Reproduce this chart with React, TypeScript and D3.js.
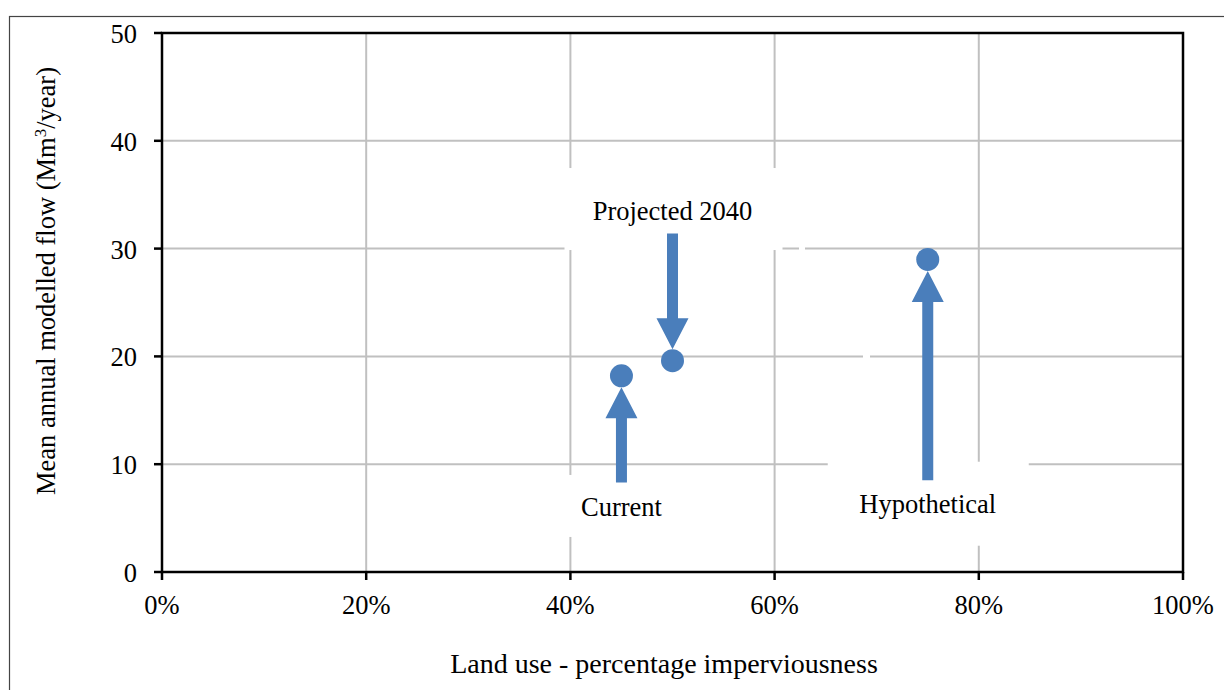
import React from "react";
import * as d3 from "d3";

const labels = ["Current", "Projected 2040", "Hypothetical"];
const imperviousness = [0.45, 0.5, 0.75];
const flow = [18.2, 19.6, 29.0];
const arrowTail = [8.3, 31.4, 8.5];
const labelBaseline = [5.2, 32.65, 5.5];
const xTicks = [0, 0.2, 0.4, 0.6, 0.8, 1.0];
const yTicks = [0, 10, 20, 30, 40, 50];
const xTitle = "Land use - percentage imperviousness";

const W = 1224;
const H = 690;
const M = { left: 162, right: 1183, top: 33, bottom: 572 };
const FONT = "'Liberation Serif', 'Times New Roman', serif";
const FS = 26.5;
const BLUE = "#4a7ebb";
const GRID = "#c0c0c0";
const R = 11.5;

// label box geometry (pixel offsets relative to label centre / baseline)
const boxes = [
  { dx0: -62, dx1: 68, dy0: -41, dy1: 21 },
  { dx0: -108, dx1: 110, dy0: -52, dy1: 30 },
  { dx0: -100, dx1: 101, dy0: -51, dy1: 33 },
];

export default function App() {
  const x = d3.scaleLinear().domain([0, 1]).range([M.left, M.right]);
  const y = d3.scaleLinear().domain([0, 50]).range([M.bottom, M.top]);
  const fmt = d3.format(".0%");

  const arrows = labels.map((_, i) => {
    const cx = x(imperviousness[i]);
    const py = y(flow[i]);
    const ty = y(arrowTail[i]);
    const up = ty > py;
    const tip = up ? py + R : py - R;
    const dir = up ? 1 : -1; // direction from tip to tail
    const headLen = 31;
    const headHalf = 16;
    const shaftHalf = 5.5;
    const base = tip + dir * headLen;
    const path = [
      [cx, tip],
      [cx + headHalf, base],
      [cx + shaftHalf, base],
      [cx + shaftHalf, ty],
      [cx - shaftHalf, ty],
      [cx - shaftHalf, base],
      [cx - headHalf, base],
    ];
    return d3.line()(path as [number, number][]) + "Z";
  });

  return (
    <svg
      width={W}
      height={H}
      style={{ position: "absolute", left: 0, top: 0, display: "block", background: "#fff" }}
      fontFamily={FONT}
    >
      <rect x={0} y={0} width={W} height={H} fill="#fff" />
      {/* outer frame */}
      <rect x={9.5} y={16.5} width={1400} height={1000} fill="none" stroke="#444" strokeWidth={1.2} />

      {/* grid */}
      {xTicks.slice(1, -1).map((t) => (
        <line key={"gx" + t} x1={x(t)} x2={x(t)} y1={M.top} y2={M.bottom} stroke={GRID} strokeWidth={2} />
      ))}
      {yTicks.slice(1, -1).map((t) => (
        <line key={"gy" + t} x1={M.left} x2={M.right} y1={y(t)} y2={y(t)} stroke={GRID} strokeWidth={2} />
      ))}

      {/* white label boxes */}
      {labels.map((l, i) => {
        const b = boxes[i];
        const cx = x(imperviousness[i]);
        const by = y(labelBaseline[i]);
        return (
          <rect key={"box" + i} x={cx + b.dx0} y={by + b.dy0} width={b.dx1 - b.dx0} height={b.dy1 - b.dy0} fill="#fff" />
        );
      })}
      <rect x={799} y={246} width={6} height={6} fill="#fff" />
      <rect x={863} y={353} width={7} height={6} fill="#fff" />

      {/* plot border / axes */}
      <rect x={M.left} y={M.top} width={M.right - M.left} height={M.bottom - M.top} fill="none" stroke="#000" strokeWidth={2.5} />
      {yTicks.map((t) => (
        <g key={"yt" + t}>
          <line x1={M.left - 8} x2={M.left} y1={y(t)} y2={y(t)} stroke="#000" strokeWidth={2.5} />
          <text x={137} y={y(t) + 10} textAnchor="end" fontSize={FS} fill="#000">
            {t}
          </text>
        </g>
      ))}
      {xTicks.map((t) => (
        <g key={"xt" + t}>
          <line x1={x(t)} x2={x(t)} y1={M.bottom} y2={M.bottom + 8} stroke="#000" strokeWidth={2.5} />
          <text x={x(t)} y={614} textAnchor="middle" fontSize={FS} fill="#000">
            {fmt(t)}
          </text>
        </g>
      ))}

      {/* labels */}
      {labels.map((l, i) => (
        <text key={"lb" + i} x={x(imperviousness[i])} y={y(labelBaseline[i])} textAnchor="middle" fontSize={FS} fill="#000">
          {l}
        </text>
      ))}

      {/* arrows */}
      {arrows.map((p, i) => (
        <path key={"ar" + i} d={p} fill={BLUE} />
      ))}

      {/* points */}
      {labels.map((l, i) => (
        <circle key={"pt" + i} cx={x(imperviousness[i])} cy={y(flow[i])} r={R} fill={BLUE} />
      ))}

      {/* axis titles */}
      <text x={664} y={673} textAnchor="middle" fontSize={28} fill="#000">
        {xTitle}
      </text>
      <text transform={`translate(55,281) rotate(-90)`} textAnchor="middle" fontSize={FS} fill="#000">
        Mean annual modelled flow (Mm
        <tspan dy={-9} fontSize={17}>3</tspan>
        <tspan dy={9}>/year)</tspan>
      </text>
    </svg>
  );
}
